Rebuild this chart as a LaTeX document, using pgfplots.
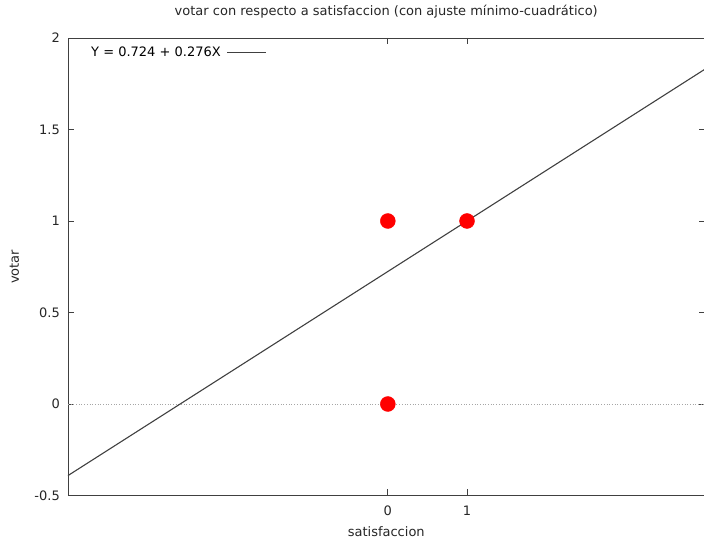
\documentclass[border=0pt]{standalone}
\usepackage{fontspec}
\setmainfont{DejaVu Sans}
\usepackage{pgfplots}
\pgfplotsset{compat=1.18}
\definecolor{fitline}{HTML}{404040}
\definecolor{axisgray}{HTML}{404040}
\newcommand{\chartfont}{\fontsize{13bp}{15bp}\selectfont}
\begin{document}
\begin{tikzpicture}
\useasboundingbox (0,0) rectangle (704bp,540bp);
\begin{axis}[
  at={(68bp,44.5bp)}, anchor=south west,
  scale only axis, width=636.5bp, height=457.5bp,
  xmin=-4.04, xmax=4.0, ymin=-0.5, ymax=2,
  xtick={0,1}, ytick={-0.5,0,0.5,1,1.5,2},
  yticklabels={-0.5,0,0.5,1,1.5,2},
  xticklabels={0,1},
  tick align=inside, major tick length=6bp,
  axis line style={color=axisgray, line width=0.9bp},
  every tick/.style={color=axisgray, line width=0.9bp},
  font=\chartfont,
  ticklabel style={font=\chartfont, color=black!85},
  xticklabel style={anchor=base, inner sep=0pt, yshift=-19.5bp},
  yticklabel style={anchor=east, inner sep=0pt, xshift=-8bp},
  title={votar con respecto a satisfaccion (con ajuste mínimo-cuadrático)},
  title style={at={(0.5,1)}, anchor=base, yshift=17bp, inner sep=0pt, color=black!85},
  xlabel={satisfaccion},
  xlabel style={at={(0.5,0)}, anchor=base, yshift=-40.5bp, inner sep=0pt, color=black!85},
  ylabel={votar},
  ylabel style={at={(-0.0842,0.5)}, anchor=center, inner sep=0pt, color=black!85,
    font=\chartfont},
  legend plot pos=right,
  legend cell align=left,
  legend style={at={(0.033,0.985)}, anchor=north west, draw=none, fill=none,
    font=\chartfont, inner sep=0pt, row sep=0pt},
  legend image code/.code={\path (0bp,0bp); \draw[#1] (4bp,0bp) -- (43bp,0bp);},
  clip=false,
]
\addplot[color=black!35, dotted, line width=0.7bp, forget plot] coordinates {(-4.04,0) (4.0,0)};
\addplot[only marks, mark=*, mark size=7.5bp, color=red, fill=red, forget plot] coordinates {
(0,1) (1,1) (0,0)
};
\addplot[color=fitline, line width=1.1bp] coordinates {(-4.04,-0.39104) (4.0,1.828)};
\addlegendentry{Y = 0.724 + 0.276X}
\end{axis}
\end{tikzpicture}
\end{document}
